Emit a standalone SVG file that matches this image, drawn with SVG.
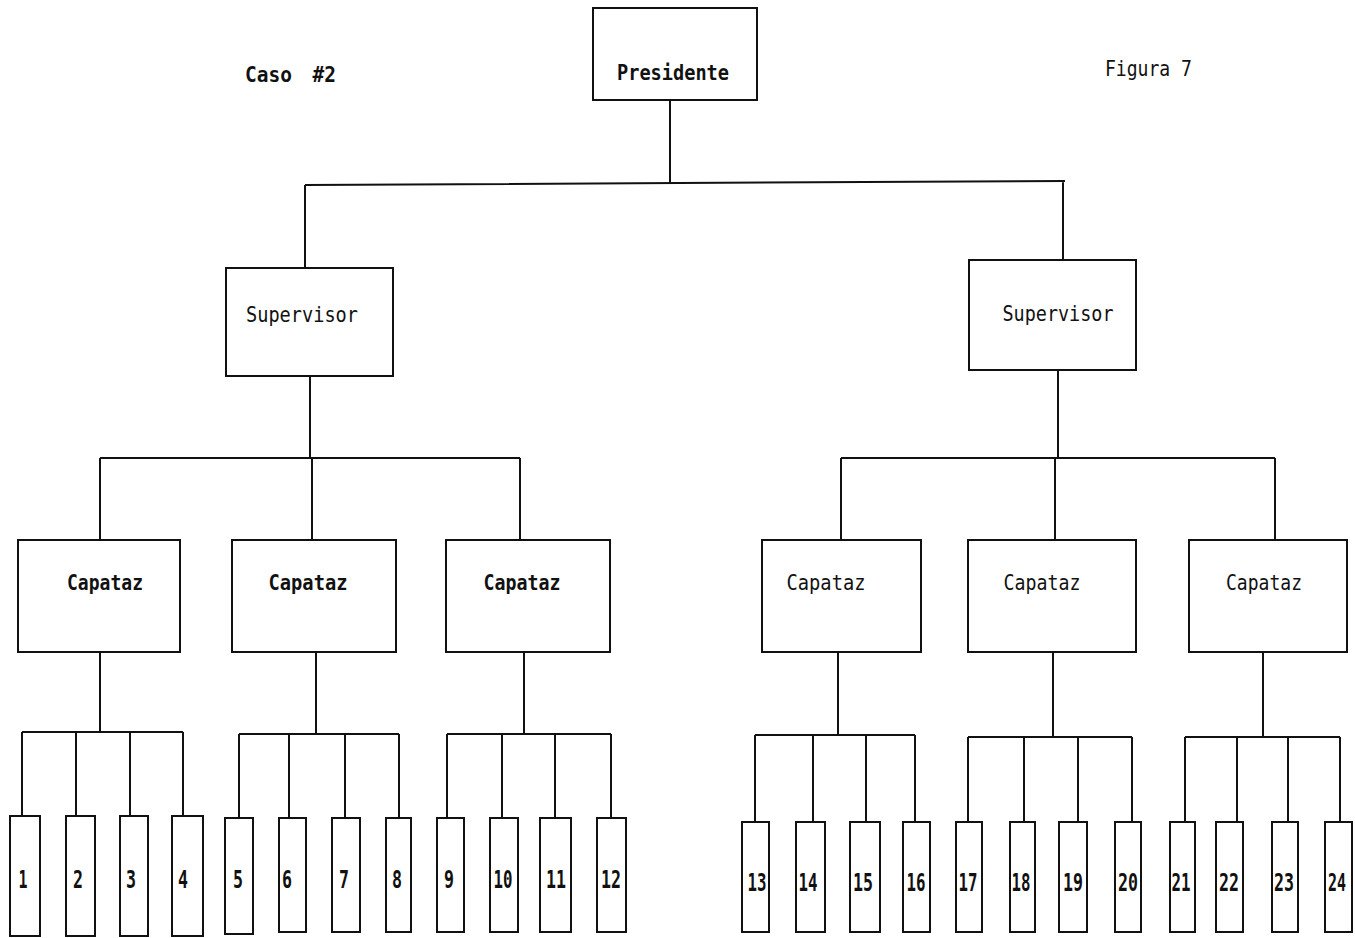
<svg xmlns="http://www.w3.org/2000/svg" width="1355" height="938" viewBox="0 0 1355 938">
<style>
.box{fill:#fff;stroke:#111;stroke-width:2}
.w{fill:#fff;stroke:#111;stroke-width:2}
.c{fill:none;stroke:#111;stroke-width:2}
text{font-family:"DejaVu Sans Mono","Liberation Mono",monospace;fill:#111}
.lbl{font-size:22px;font-weight:bold;text-anchor:middle}
.num{font-size:24px;font-weight:bold;text-anchor:middle}
.cap{font-size:22px;text-anchor:start;font-weight:bold}
.thin{font-weight:normal}
</style>
<rect width="1355" height="938" fill="#fff"/>
<text class="cap" x="245" y="82" textLength="91" lengthAdjust="spacingAndGlyphs" word-spacing="10">Caso #2</text>
<text class="cap thin" x="1105" y="76" textLength="87" lengthAdjust="spacingAndGlyphs">Figura 7</text>
<g id="connectors">
<path class="c" d="M670 100V183M305 185L1065 181M305 185V268M1063 181V260"/>
<path class="c" d="M310 376V458M100 458H520M100 458V540M312 458V540M520 458V540"/>
<path class="c" d="M1058 370V458M841 458H1275M841 458V540M1055 458V540M1275 458V540"/>
<path class="c" d="M100 652V732M22 732H183M22 732V816M76 732V816M130 732V816M183 732V816"/>
<path class="c" d="M316 652V734M239 734H399M239 734V818M289 734V818M345 734V818M399 734V818"/>
<path class="c" d="M524 652V734M447 734H611M447 734V818M502 734V818M555 734V818M611 734V818"/>
<path class="c" d="M838 652V735M755 735H915M755 735V822M813 735V822M866 735V822M915 735V822"/>
<path class="c" d="M1053 652V737M968 737H1132M968 737V822M1024 737V822M1078 737V822M1132 737V822"/>
<path class="c" d="M1263 652V737M1185 737H1340M1185 737V822M1237 737V822M1288 737V822M1340 737V822"/>
</g>
<g id="presidente"><rect class="box" x="593" y="8" width="164" height="92"/><text class="lbl" x="673" y="80" textLength="112" lengthAdjust="spacingAndGlyphs">Presidente</text></g>
<g id="supervisor1"><rect class="box" x="226" y="268" width="167" height="108"/><text class="lbl thin" x="302" y="322" textLength="112" lengthAdjust="spacingAndGlyphs">Supervisor</text></g>
<g id="supervisor2"><rect class="box" x="969" y="260" width="167" height="110"/><text class="lbl thin" x="1058" y="321" textLength="111" lengthAdjust="spacingAndGlyphs">Supervisor</text></g>
<g id="capataz1"><rect class="box" x="18" y="540" width="162" height="112"/><text class="lbl" x="105" y="590" textLength="76" lengthAdjust="spacingAndGlyphs">Capataz</text></g>
<g id="capataz2"><rect class="box" x="232" y="540" width="164" height="112"/><text class="lbl" x="308" y="590" textLength="79" lengthAdjust="spacingAndGlyphs">Capataz</text></g>
<g id="capataz3"><rect class="box" x="446" y="540" width="164" height="112"/><text class="lbl" x="522" y="590" textLength="77" lengthAdjust="spacingAndGlyphs">Capataz</text></g>
<g id="capataz4"><rect class="box" x="762" y="540" width="159" height="112"/><text class="lbl thin" x="826" y="590" textLength="79" lengthAdjust="spacingAndGlyphs">Capataz</text></g>
<g id="capataz5"><rect class="box" x="968" y="540" width="168" height="112"/><text class="lbl thin" x="1042" y="590" textLength="77" lengthAdjust="spacingAndGlyphs">Capataz</text></g>
<g id="capataz6"><rect class="box" x="1189" y="540" width="158" height="112"/><text class="lbl thin" x="1264" y="590" textLength="76" lengthAdjust="spacingAndGlyphs">Capataz</text></g>
<g id="w1"><rect class="w" x="10" y="816" width="30" height="120"/><text class="num" x="23" y="888" textLength="9" lengthAdjust="spacingAndGlyphs">1</text></g>
<g id="w2"><rect class="w" x="66" y="816" width="29" height="120"/><text class="num" x="78" y="888" textLength="10" lengthAdjust="spacingAndGlyphs">2</text></g>
<g id="w3"><rect class="w" x="120" y="816" width="28" height="120"/><text class="num" x="131" y="888" textLength="10" lengthAdjust="spacingAndGlyphs">3</text></g>
<g id="w4"><rect class="w" x="172" y="816" width="31" height="120"/><text class="num" x="183" y="888" textLength="10" lengthAdjust="spacingAndGlyphs">4</text></g>
<g id="w5"><rect class="w" x="225" y="818" width="28" height="116"/><text class="num" x="238" y="888" textLength="10" lengthAdjust="spacingAndGlyphs">5</text></g>
<g id="w6"><rect class="w" x="279" y="818" width="27" height="114"/><text class="num" x="287" y="888" textLength="10" lengthAdjust="spacingAndGlyphs">6</text></g>
<g id="w7"><rect class="w" x="332" y="818" width="28" height="114"/><text class="num" x="344" y="888" textLength="10" lengthAdjust="spacingAndGlyphs">7</text></g>
<g id="w8"><rect class="w" x="386" y="818" width="25" height="114"/><text class="num" x="397" y="888" textLength="10" lengthAdjust="spacingAndGlyphs">8</text></g>
<g id="w9"><rect class="w" x="437" y="818" width="27" height="114"/><text class="num" x="449" y="888" textLength="10" lengthAdjust="spacingAndGlyphs">9</text></g>
<g id="w10"><rect class="w" x="490" y="818" width="28" height="114"/><text class="num" x="503" y="888" textLength="19" lengthAdjust="spacingAndGlyphs">10</text></g>
<g id="w11"><rect class="w" x="540" y="818" width="31" height="114"/><text class="num" x="556" y="888" textLength="20" lengthAdjust="spacingAndGlyphs">11</text></g>
<g id="w12"><rect class="w" x="597" y="818" width="29" height="114"/><text class="num" x="611" y="888" textLength="20" lengthAdjust="spacingAndGlyphs">12</text></g>
<g id="w13"><rect class="w" x="742" y="822" width="27" height="110"/><text class="num" x="757" y="891" textLength="19" lengthAdjust="spacingAndGlyphs">13</text></g>
<g id="w14"><rect class="w" x="796" y="822" width="29" height="110"/><text class="num" x="808" y="891" textLength="19" lengthAdjust="spacingAndGlyphs">14</text></g>
<g id="w15"><rect class="w" x="850" y="822" width="30" height="110"/><text class="num" x="863" y="891" textLength="20" lengthAdjust="spacingAndGlyphs">15</text></g>
<g id="w16"><rect class="w" x="903" y="822" width="27" height="110"/><text class="num" x="916" y="891" textLength="19" lengthAdjust="spacingAndGlyphs">16</text></g>
<g id="w17"><rect class="w" x="956" y="822" width="26" height="110"/><text class="num" x="968" y="891" textLength="19" lengthAdjust="spacingAndGlyphs">17</text></g>
<g id="w18"><rect class="w" x="1010" y="822" width="25" height="110"/><text class="num" x="1021" y="891" textLength="19" lengthAdjust="spacingAndGlyphs">18</text></g>
<g id="w19"><rect class="w" x="1059" y="822" width="28" height="110"/><text class="num" x="1073" y="891" textLength="20" lengthAdjust="spacingAndGlyphs">19</text></g>
<g id="w20"><rect class="w" x="1115" y="822" width="26" height="110"/><text class="num" x="1128" y="891" textLength="20" lengthAdjust="spacingAndGlyphs">20</text></g>
<g id="w21"><rect class="w" x="1170" y="822" width="25" height="110"/><text class="num" x="1181" y="891" textLength="19" lengthAdjust="spacingAndGlyphs">21</text></g>
<g id="w22"><rect class="w" x="1216" y="822" width="27" height="110"/><text class="num" x="1229" y="891" textLength="20" lengthAdjust="spacingAndGlyphs">22</text></g>
<g id="w23"><rect class="w" x="1272" y="822" width="26" height="110"/><text class="num" x="1284" y="891" textLength="20" lengthAdjust="spacingAndGlyphs">23</text></g>
<g id="w24"><rect class="w" x="1325" y="822" width="27" height="110"/><text class="num" x="1337" y="891" textLength="18" lengthAdjust="spacingAndGlyphs">24</text></g>
</svg>
